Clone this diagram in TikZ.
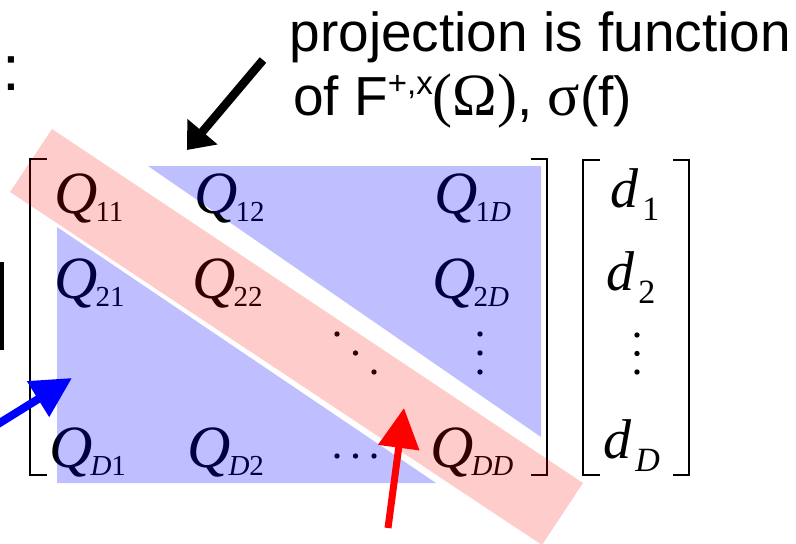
\documentclass[tikz,border=0pt]{standalone}
\usepackage{fontspec}
\setmainfont{Liberation Serif}
\newfontfamily\arialfont{Liberation Sans}
\usetikzlibrary{arrows.meta}

\newcommand{\qsub}[1]{\textit{Q}\kern-2pt\raisebox{-8pt}{\fontsize{29}{29}\selectfont #1}}
\newcommand{\dsub}[1]{\textit{d}\kern4pt\raisebox{-13pt}{\fontsize{34}{34}\selectfont #1}}

\begin{document}
\begin{tikzpicture}[x=1pt, y=-1pt,
    entry/.style={inner sep=0pt, anchor=base west, font=\fontsize{60}{60}\selectfont},
    ventry/.style={inner sep=0pt, anchor=base west, font=\fontsize{56}{56}\selectfont},
    note/.style={inner sep=0pt, anchor=base west, font=\arialfont\fontsize{55}{55}\selectfont},
    bracket/.style={line width=2.8pt},
    band/.style={fill=red, fill opacity=0.2},
    tri/.style={fill=blue, fill opacity=0.25},
    arrow/.style={-{Triangle[length=40pt, width=40pt]}, line width=8pt},
]
    \useasboundingbox (0,0) rectangle (796,544);

    % cut-off text on the left
    \node[note, font=\arialfont\fontsize{64}{64}\selectfont] (colon) at (2,90) {:};
    \fill (0,262) rectangle (3.5,350);

    % annotation
    \node[note] (proj) at (289.5,51) {projection is function};
    \node[note] (projof) at (293,115) {of F\raisebox{21pt}{\fontsize{33}{33}\selectfont +,x}{\rmfamily\fontsize{60}{60}\selectfont(Ω)}, {\rmfamily\fontsize{60}{60}\selectfont σ}(f)};

    % matrix Q
    \draw[bracket] (47,159) -- (30,159) -- (30,475) -- (47,475);
    \draw[bracket] (531,159) -- (547,159) -- (547,475) -- (531,475);
    \node[entry] (q11) at (54,213) {\qsub{11}};
    \node[entry] (q12) at (194,213) {\qsub{12}};
    \node[entry] (q1d) at (434,213) {\qsub{1\textit{D}}};
    \node[entry] (q21) at (54,298) {\qsub{21}};
    \node[entry] (q22) at (192,298) {\qsub{22}};
    \node[entry] (q2d) at (432,298) {\qsub{2\textit{D}}};
    \node[entry] (qd1) at (49,467) {\qsub{\textit{D}1}};
    \node[entry] (qd2) at (187,467) {\qsub{\textit{D}2}};
    \node[entry] (qdd) at (430,467) {\qsub{\textit{DD}}};

    % vector d
    \draw[bracket] (600,160) -- (583,160) -- (583,475) -- (600,475);
    \draw[bracket] (673,160) -- (689,160) -- (689,475) -- (673,475);
    \node[ventry] (d1) at (610,207) {\dsub{1}};
    \node[ventry] (d2) at (606,290) {\dsub{2}};
    \node[ventry] (dd) at (603,458) {\dsub{\textit{D}}};

    % dots
    \foreach \k in {0,1,2} {
        \fill (337+18.5*\k, 334+19*\k) circle (2.7pt);
        \fill (480, 334+19*\k) circle (2.7pt);
        \fill (337+18.5*\k, 456) circle (2.7pt);
        \fill (637, 335+18.5*\k) circle (2.7pt);
    }

    % off-diagonal and diagonal highlights
    \fill[tri] (148,166) -- (541,166) -- (541,437) -- cycle;
    \fill[tri] (57,227) -- (57,483) -- (436,483) -- cycle;
    \fill[band] (52,129) -- (583,483) -- (542,545) -- (10,192) -- cycle;

    % arrows
    \coordinate (blk0) at (263,60);
    \coordinate (blk1) at (187,150);
    \draw[arrow, line width=8.5pt, -{Triangle[length=24pt, width=38pt]}] (blk0) -- (blk1);
    \coordinate (blu0) at (-10,429);
    \coordinate (blu1) at (72,378);
    \draw[arrow, blue] (blu0) -- (blu1);
    \coordinate (red0) at (388,528);
    \coordinate (red1) at (404,408);
    \draw[arrow, red, line width=7pt] (red0) -- (red1);
\end{tikzpicture}
\end{document}
